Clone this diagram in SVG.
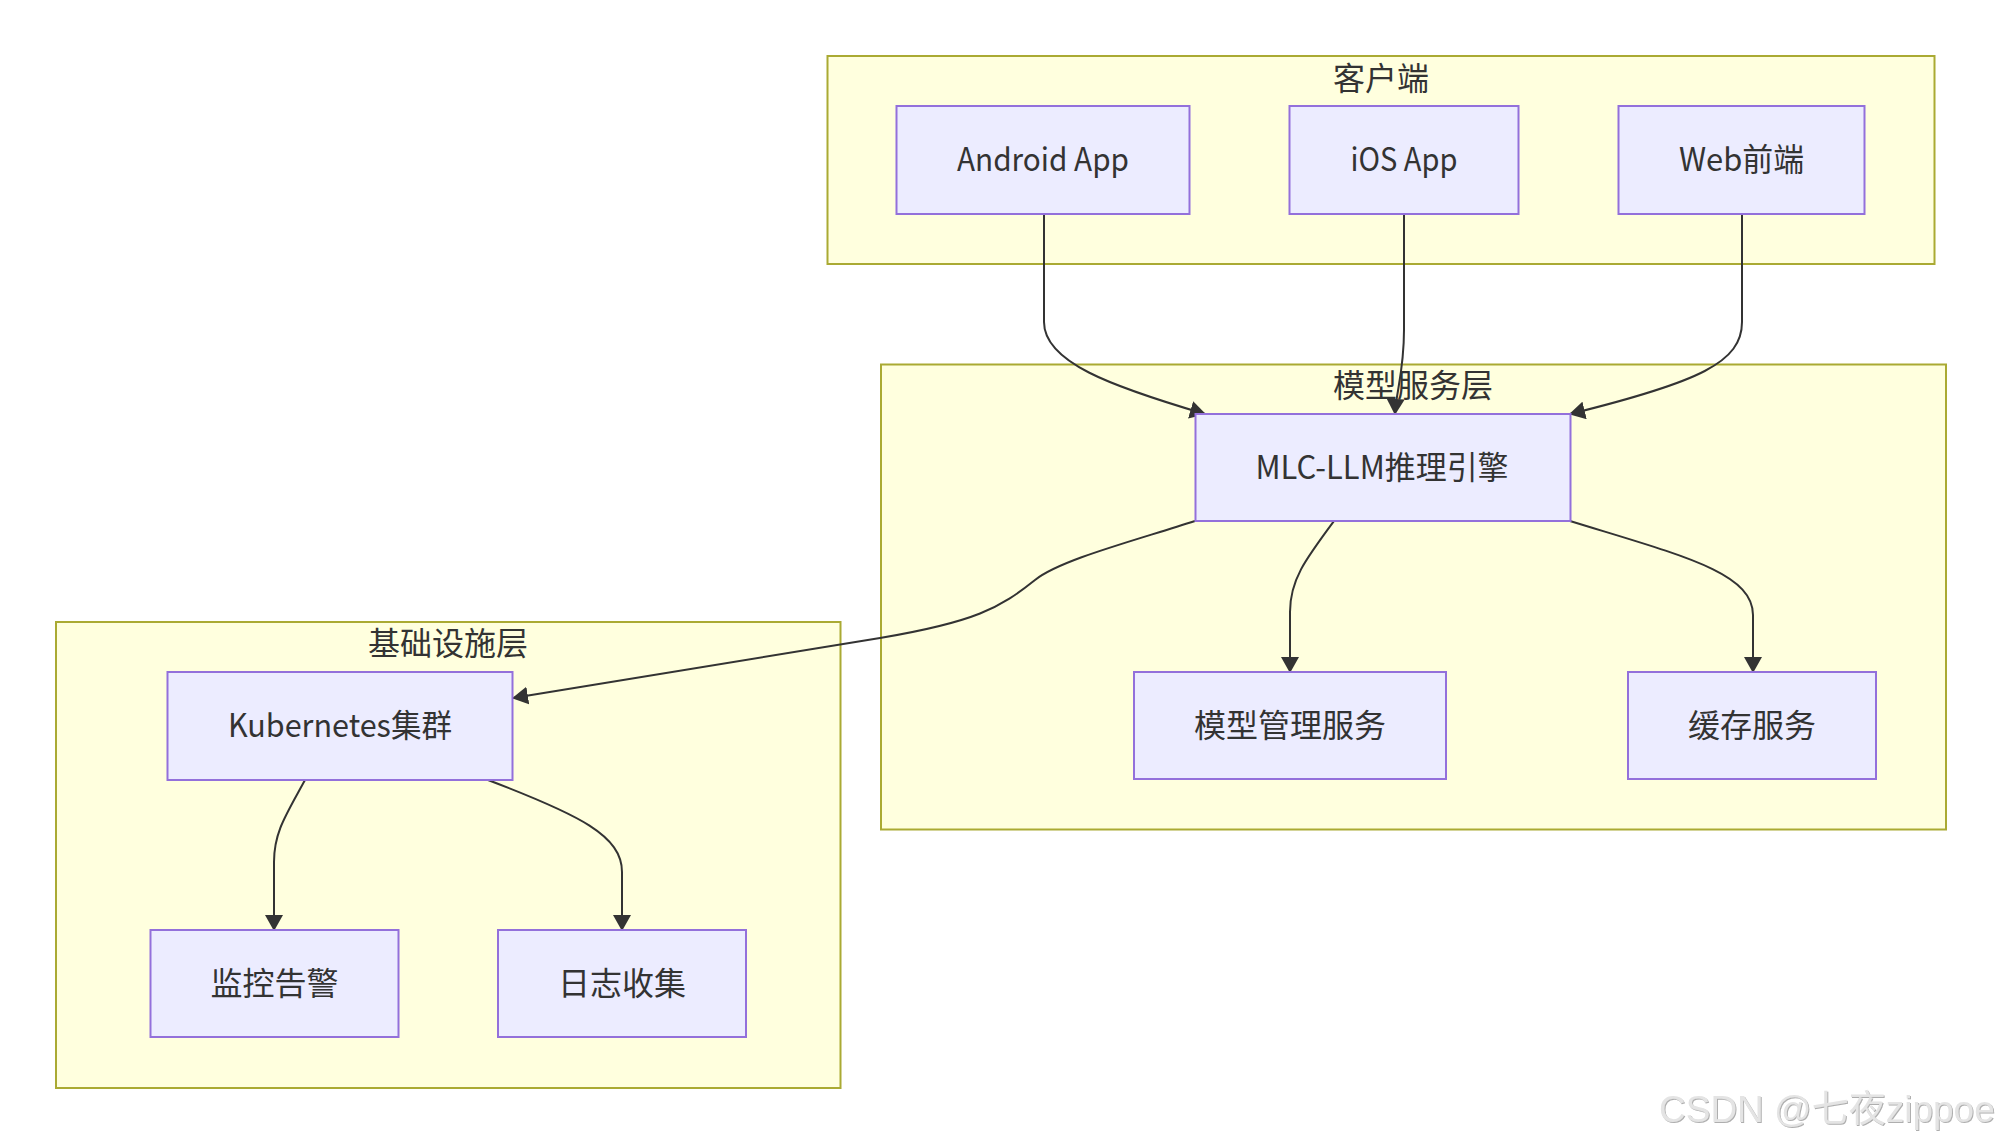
<svg xmlns="http://www.w3.org/2000/svg" width="2001" height="1144" viewBox="0 0 2001 1144">
<style>
.cluster{fill:#ffffde;stroke:#aaaa33;stroke-width:2}
.node rect{fill:#ececff;stroke:#9370db;stroke-width:2}
.lbl{font-family:"Noto Sans CJK SC","Noto Sans",sans-serif;font-size:32px;fill:#333;text-anchor:middle;dominant-baseline:central}
.edge{fill:none;stroke:#333;stroke-width:2}
.wm{font-family:"Liberation Sans","Noto Sans CJK SC",sans-serif;font-size:37px;fill:#e4e4e4}
</style>
<defs>
<marker id="arr" viewBox="0 0 16 18" refX="15" refY="9" markerWidth="16" markerHeight="18" markerUnits="userSpaceOnUse" orient="auto">
<path d="M0,0 L16,9 L0,18 z" fill="#333"/>
</marker>
<filter id="emb" x="-5%" y="-20%" width="110%" height="140%">
<feDropShadow dx="1" dy="1" stdDeviation="0.6" flood-color="#9a9a9a" flood-opacity="0.8"/>
</filter>
</defs>
<rect width="2001" height="1144" fill="#ffffff"/>
<g id="clusters">
<g id="cluster-client"><rect class="cluster" x="827.5" y="56" width="1107" height="208"/><text class="lbl" x="1381" y="76">客户端</text></g>
<g id="cluster-model"><rect class="cluster" x="881" y="364.5" width="1065" height="465"/><text class="lbl" x="1413" y="383">模型服务层</text></g>
<g id="cluster-infra"><rect class="cluster" x="56" y="622" width="784.5" height="466"/><text class="lbl" x="448" y="641">基础设施层</text></g>
</g>
<g id="connectors">
<path class="edge" marker-end="url(#arr)" d="M1044,214 L1044,322 C1044,362 1110,386 1205,414"/>
<path class="edge" marker-end="url(#arr)" d="M1404,214 L1404,330 C1404,372 1396,392 1395,414"/>
<path class="edge" marker-end="url(#arr)" d="M1742,214 L1742,322 C1742,362 1700,382 1570,414"/>
<path class="edge" marker-end="url(#arr)" d="M1195,521 C1130,542 1060,560 1035,580 C1000,608 975,622 880,638 L513,698"/>
<path class="edge" marker-end="url(#arr)" d="M1334,521 C1305,560 1290,580 1290,612 L1290,672"/>
<path class="edge" marker-end="url(#arr)" d="M1570,521 C1680,555 1753,572 1753,615 L1753,672"/>
<path class="edge" marker-end="url(#arr)" d="M305,780 C286,815 274,832 274,862 L274,930"/>
<path class="edge" marker-end="url(#arr)" d="M488,780 C580,815 622,836 622,872 L622,930"/>
</g>
<g id="node-android" class="node"><rect x="896.5" y="106" width="293" height="108"/><text class="lbl" x="1043" y="157" textLength="172" lengthAdjust="spacingAndGlyphs">Android App</text></g>
<g id="node-ios" class="node"><rect x="1289.5" y="106" width="229" height="108"/><text class="lbl" x="1404" y="157" textLength="107" lengthAdjust="spacingAndGlyphs">iOS App</text></g>
<g id="node-web" class="node"><rect x="1618.5" y="106" width="246" height="108"/><text class="lbl" x="1741.5" y="157" textLength="125" lengthAdjust="spacingAndGlyphs">Web前端</text></g>
<g id="node-mlc" class="node"><rect x="1195.5" y="414" width="375" height="107"/><text class="lbl" x="1382" y="464.5" textLength="253" lengthAdjust="spacingAndGlyphs">MLC-LLM推理引擎</text></g>
<g id="node-modelmgr" class="node"><rect x="1134" y="672" width="312" height="107"/><text class="lbl" x="1290" y="722.5">模型管理服务</text></g>
<g id="node-cache" class="node"><rect x="1628" y="672" width="248" height="107"/><text class="lbl" x="1752" y="722.5">缓存服务</text></g>
<g id="node-k8s" class="node"><rect x="167.5" y="672" width="345" height="108"/><text class="lbl" x="340" y="723" textLength="224" lengthAdjust="spacingAndGlyphs">Kubernetes集群</text></g>
<g id="node-monitor" class="node"><rect x="150.5" y="930" width="248" height="107"/><text class="lbl" x="274.5" y="980.5">监控告警</text></g>
<g id="node-log" class="node"><rect x="498" y="930" width="248" height="107"/><text class="lbl" x="622" y="980.5">日志收集</text></g>
<text class="wm" x="1659" y="1122" filter="url(#emb)">CSDN @七夜zippoe</text>
</svg>
